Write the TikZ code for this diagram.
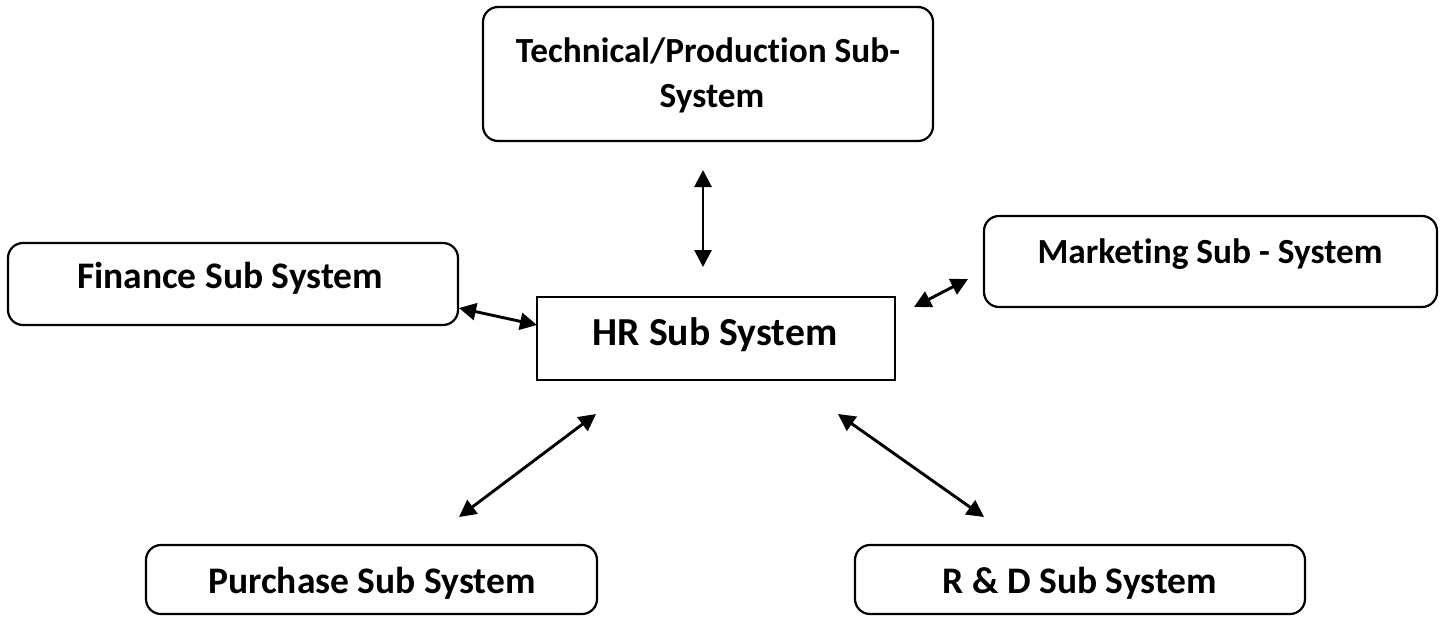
\documentclass[tikz,border=0pt]{standalone}
\usepackage{fontspec}
\setmainfont{Carlito}[Ligatures={NoCommon}]
\usetikzlibrary{arrows.meta,fit}
\begin{document}
\begin{tikzpicture}[x=1pt,y=-1pt,
  subsys/.style={draw, line width=2.2pt, rounded corners=15pt, inner sep=0pt},
  hrbox/.style={draw, line width=2.2pt, inner sep=0pt},
  lbl/.style={anchor=base, inner sep=0pt, font=\fontsize{37.5}{44}\selectfont\bfseries},
  smlbl/.style={anchor=base, inner sep=0pt, font=\fontsize{35.3}{42}\selectfont\bfseries},
  hrlbl/.style={anchor=base, inner sep=0pt, font=\fontsize{39.7}{46}\selectfont\bfseries},
  link/.style={line width=2.9pt, {Triangle[length=17pt,width=17pt]}-{Triangle[length=17pt,width=17pt]}}]
\useasboundingbox (0,0) rectangle (1443,616);

% boxes
\node[subsys, fit={(483,7) (933,141)}] (tech) {};
\node[subsys, fit={(8,243) (458,325)}] (fin) {};
\node[subsys, fit={(984,216) (1437,307)}] (mkt) {};
\node[hrbox, fit={(537,297) (895,380)}] (hr) {};
\node[subsys, fit={(146,545) (597,614)}] (pur) {};
\node[subsys, fit={(855,545) (1305,614)}] (rnd) {};

% labels
\node[smlbl] (techA) at (708,62) {Technical/Production Sub-};
\node[smlbl] (techB) at (712,107) {System};
\node[lbl] (finT) at (230,288) {Finance Sub System};
\node[smlbl] (mktT) at (1210,263) {Marketing Sub - System};
\node[hrlbl] (hrT) at (715,345) {HR Sub System};
\node[lbl] (purT) at (372,593) {Purchase Sub System};
\node[lbl] (rndT) at (1080,593) {R \& D Sub System};

% connector end points
\coordinate (tu) at (703,170);
\coordinate (td) at (703,267);
\coordinate (fa) at (459,308);
\coordinate (fb) at (537,325);
\coordinate (ma) at (914,307);
\coordinate (mb) at (968,279);
\coordinate (pa) at (596,414);
\coordinate (pb) at (459,517);
\coordinate (ra) at (838,414);
\coordinate (rb) at (984,517);

% connectors
\draw[link] (tu) -- (td);
\draw[link] (fa) -- (fb);
\draw[link] (ma) -- (mb);
\draw[link] (pa) -- (pb);
\draw[link] (ra) -- (rb);
\end{tikzpicture}
\end{document}
